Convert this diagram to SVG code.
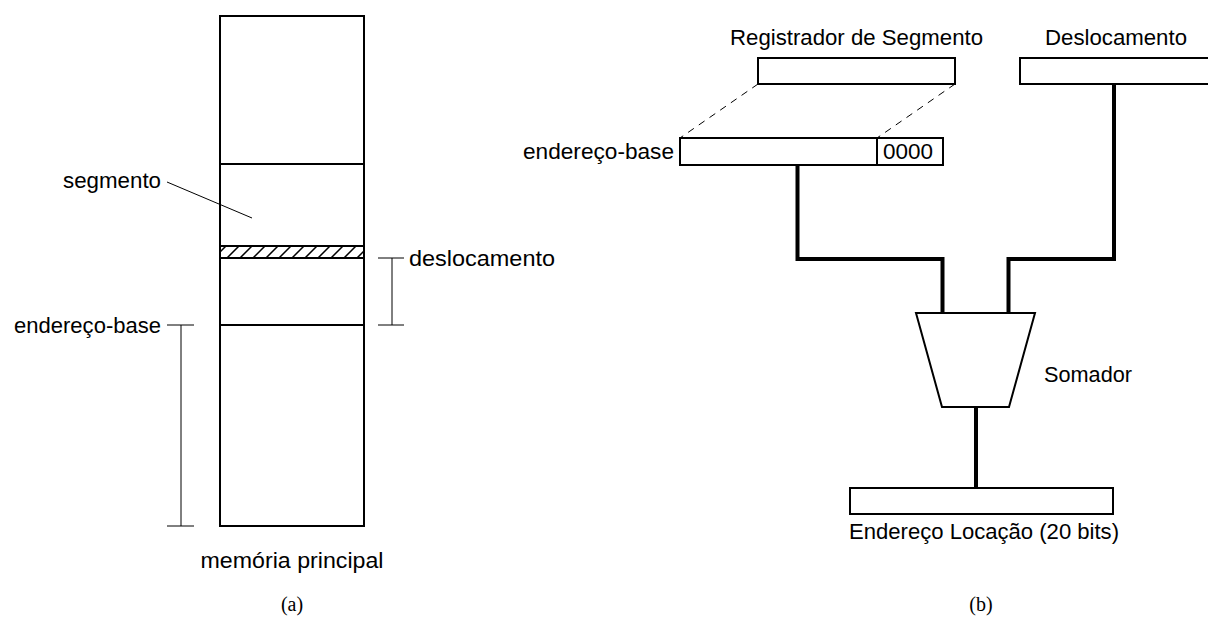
<svg xmlns="http://www.w3.org/2000/svg" width="1208" height="624" viewBox="0 0 1208 624">
  <style>
    .lbl { font-family: "Liberation Sans", Arial, sans-serif; font-size: 21.5px; fill: #000; }
    .cap { font-family: "Liberation Serif", "Times New Roman", serif; font-size: 20px; fill: #000; }
    .box { fill: #fff; stroke: #000; stroke-width: 2; }
    .thin { fill: none; stroke: #000; stroke-width: 1; }
    .bus { fill: none; stroke: #000; stroke-width: 4; stroke-linejoin: miter; stroke-linecap: square; }
    .dash { fill: none; stroke: #000; stroke-width: 1; stroke-dasharray: 7 6; }
  </style>
  <defs>
    <clipPath id="bandClip">
      <rect x="220" y="246" width="144" height="12"/>
    </clipPath>
  </defs>
  <rect width="1208" height="624" fill="#fff"/>

  <!-- (a) main memory with a segment -->
  <g id="memoria">
    <rect class="box" x="220" y="16" width="144" height="510"/>
    <line class="box" x1="220" y1="164" x2="364" y2="164"/>
    <line class="box" x1="220" y1="325" x2="364" y2="325"/>
    <g clip-path="url(#bandClip)" stroke="#000" stroke-width="1.5">
      <path d="M214 258 L226 246 M227 258 L239 246 M240 258 L252 246 M253 258 L265 246 M266 258 L278 246 M279 258 L291 246 M292 258 L304 246 M305 258 L317 246 M318 258 L330 246 M331 258 L343 246 M344 258 L356 246 M357 258 L369 246"/>
    </g>
    <rect x="220" y="246" width="144" height="12" fill="none" stroke="#000" stroke-width="2"/>
    <text class="lbl" x="292" y="568" text-anchor="middle" textLength="183" lengthAdjust="spacingAndGlyphs">memória principal</text>
  </g>

  <g id="segmento">
    <text class="lbl" x="63" y="188" textLength="98" lengthAdjust="spacingAndGlyphs">segmento</text>
    <line class="thin" x1="167" y1="182" x2="252" y2="218"/>
  </g>

  <g id="deslocamento-a">
    <path class="thin" d="M378 258 H404 M392 258 V325 M378 325 H404"/>
    <text class="lbl" x="409" y="266" textLength="146" lengthAdjust="spacingAndGlyphs">deslocamento</text>
  </g>

  <g id="endereco-base-a">
    <path class="thin" d="M167 325 H194 M181 325 V526 M167 526 H194"/>
    <text class="lbl" x="14" y="333" textLength="147" lengthAdjust="spacingAndGlyphs">endereço-base</text>
  </g>

  <text class="cap" x="292" y="611" text-anchor="middle">(a)</text>

  <!-- (b) address computation -->
  <g id="registrador">
    <text class="lbl" x="730" y="45" textLength="253" lengthAdjust="spacingAndGlyphs">Registrador de Segmento</text>
    <rect class="box" x="758" y="58" width="197" height="26"/>
  </g>

  <g id="deslocamento-b">
    <text class="lbl" x="1045" y="45" textLength="142" lengthAdjust="spacingAndGlyphs">Deslocamento</text>
    <rect class="box" x="1020" y="58" width="200" height="26"/>
  </g>

  <g id="endereco-base-b">
    <text class="lbl" x="523" y="159" textLength="151" lengthAdjust="spacingAndGlyphs">endereço-base</text>
    <rect class="box" x="680" y="138" width="263" height="27"/>
    <line class="box" x1="877" y1="138" x2="877" y2="165"/>
    <text class="lbl" x="883" y="159" textLength="50" lengthAdjust="spacingAndGlyphs">0000</text>
  </g>

  <g id="somador">
    <path class="box" d="M916 313 H1035 L1009 407 H942 Z" stroke-linejoin="miter"/>
    <text class="lbl" x="1044" y="382" textLength="88" lengthAdjust="spacingAndGlyphs">Somador</text>
  </g>

  <g id="endereco-locacao">
    <rect class="box" x="850" y="488" width="263" height="26"/>
    <text class="lbl" x="849" y="539" textLength="270" lengthAdjust="spacingAndGlyphs">Endereço Locação (20 bits)</text>
  </g>

  <text class="cap" x="981" y="611" text-anchor="middle">(b)</text>

  <g id="connectors">
    <line class="dash" x1="758" y1="84" x2="680" y2="138"/>
    <line class="dash" x1="955" y1="84" x2="877" y2="138"/>
    <path class="bus" d="M797.5 167 V259 H942.5 V312"/>
    <path class="bus" d="M1114 86 V259 H1008.5 V312"/>
    <path class="bus" d="M976 409 V486"/>
  </g>
</svg>
